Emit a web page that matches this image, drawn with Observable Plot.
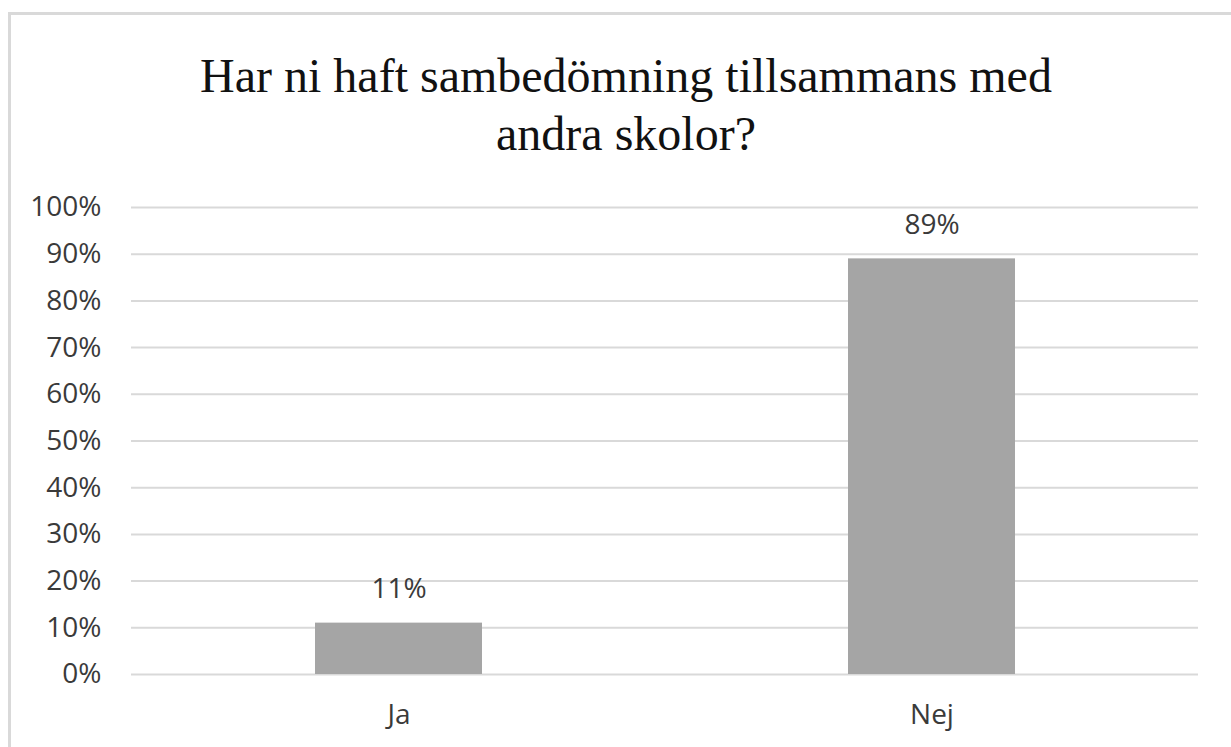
<!DOCTYPE html>
<html>
<head>
<meta charset="utf-8">
<script src="https://cdn.jsdelivr.net/npm/d3@7"></script>
<script src="https://cdn.jsdelivr.net/npm/@observablehq/plot@0.6"></script>
<style>
  html, body { margin: 0; padding: 0; background: #fff; overflow: hidden; }
  #frame {
    position: absolute; left: 8px; top: 12px; width: 1250px; height: 760px;
    border: 3px solid #d9d9d9; box-sizing: border-box;
  }
  #title {
    position: absolute; left: 0; top: 47px; width: 1252px; text-align: center;
    font-family: "Liberation Serif", "Times New Roman", serif; font-size: 48px;
    line-height: 58px; color: #111;
  }
  #chart { position: absolute; left: 0; top: 180px; }
</style>
</head>
<body>
<div id="frame"></div>
<div id="title">Har ni haft sambedömning tillsammans med<br>andra skolor?</div>
<div id="chart"></div>
<script>
const categories = ["Ja", "Nej"];
const shares = [0.11, 0.89];
const yTicks = [0, 0.1, 0.2, 0.3, 0.4, 0.5, 0.6, 0.7, 0.8, 0.9, 1.0];
const yTickLabels = ["0%", "10%", "20%", "30%", "40%", "50%", "60%", "70%", "80%", "90%", "100%"];
const barLabels = ["11%", "89%"];

const data = categories.map((c, i) => ({category: c, share: shares[i], label: barLabels[i]}));

const font = "'Open Sans', 'Noto Sans', sans-serif";
const chart = Plot.plot({
  width: 1231,
  height: 567,
  marginLeft: 131,
  marginRight: 33,
  marginTop: 27,
  marginBottom: 73,
  style: {fontFamily: font, fontSize: "28px", color: "#3a3a3a", background: "transparent"},
  x: {domain: categories, paddingInner: 0.687, paddingOuter: 0.3435, label: null},
  y: {domain: [0, 1], label: null},
  marks: [
    Plot.ruleY(yTicks, {stroke: "#d9d9d9", strokeWidth: 2}),
    Plot.barY(data, {x: "category", y: "share", fill: "#a5a5a5"}),
    Plot.text(data, {x: "category", y: "share", text: "label", lineAnchor: "bottom", dy: -25, fill: "#3a3a3a", fontSize: 28}),
    Plot.axisY(yTicks, {tickSize: 0, tickPadding: 30, tickFormat: (d) => yTickLabels[yTicks.indexOf(d)], fontSize: 28, label: null}),
    Plot.axisX({tickSize: 0, tickPadding: 30, fontSize: 28, label: null})
  ]
});
document.getElementById("chart").appendChild(chart);
</script>
</body>
</html>
